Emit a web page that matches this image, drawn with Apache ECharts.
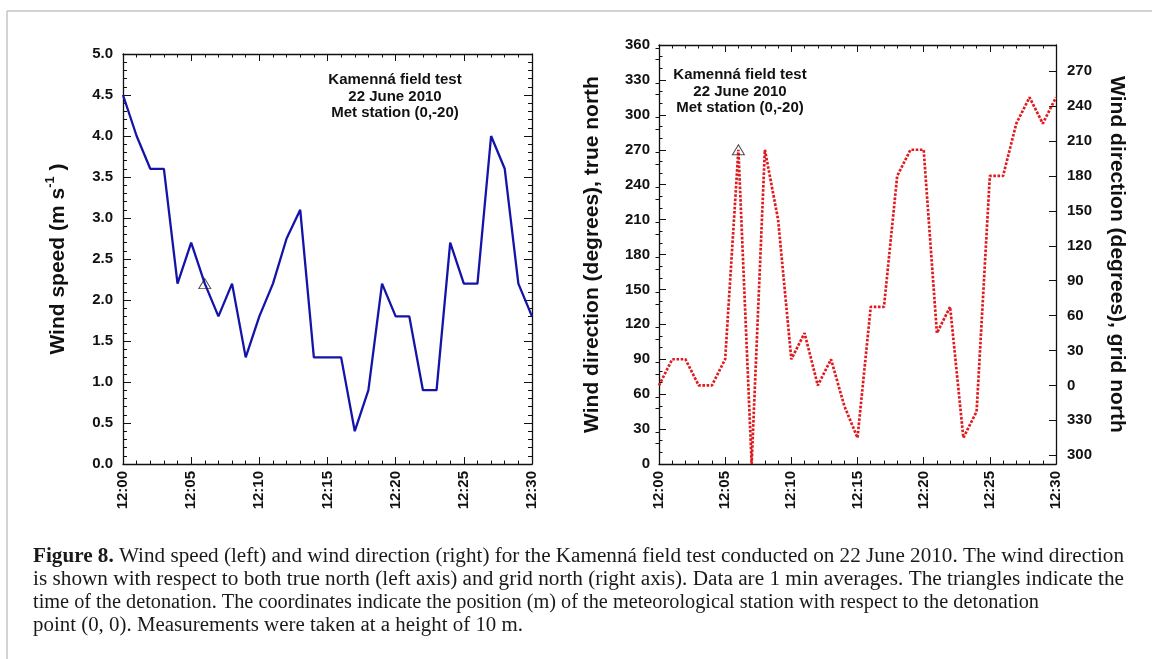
<!DOCTYPE html>
<html>
<head>
<meta charset="utf-8">
<title>Kamenná field test – wind</title>
<script src="https://cdn.jsdelivr.net/npm/echarts@6/dist/echarts.min.js"></script>
<style>
  html, body { margin: 0; padding: 0; background: #fff; }
  #chart { width: 1152px; height: 659px; }
</style>
</head>
<body>
<div id="chart"></div>
<script>
// Minutes after 12:00, one-minute averages
const minutes = [0, 1, 2, 3, 4, 5, 6, 7, 8, 9, 10, 11, 12, 13, 14, 15, 16, 17, 18, 19, 20, 21, 22, 23, 24, 25, 26, 27, 28, 29, 30];
// Wind speed (m/s)
const windSpeed = [4.5, 4.0, 3.6, 3.6, 2.2, 2.7, 2.2, 1.8, 2.2, 1.3, 1.8, 2.2, 2.75, 3.1, 1.3, 1.3, 1.3, 0.4, 0.9, 2.2, 1.8, 1.8, 0.9, 0.9, 2.7, 2.2, 2.2, 4.0, 3.6, 2.2, 1.8];
// Wind direction, degrees from true north
const windDirection = [67.5, 90, 90, 67.5, 67.5, 90, 270, 0, 270, 210, 90, 112.5, 67.5, 90, 50, 22.5, 135, 135, 247.5, 270, 270, 112.5, 135, 22.5, 45, 247.5, 247.5, 292.5, 315, 292.5, 315];
// Detonation time marker
const detonationMinute = 6;
const detonationSpeed = 2.2;
const detonationDirection = 270;
// Tick labels
const timeLabels = ['12:00', '12:05', '12:10', '12:15', '12:20', '12:25', '12:30'];
const gridNorthTicks = [-60, -30, 0, 30, 60, 90, 120, 150, 180, 210, 240, 270];
const gridNorthMinor = [-50, -40, -20, -10, 10, 20, 40, 50, 70, 80, 100, 110, 130, 140, 160, 170, 190, 200, 220, 230, 250, 260, 280, 290];
// Grid north = true north minus this offset
const gridOffset = 67.5;
const insetLines = ['Kamenná field test', '22 June 2010', 'Met station (0,-20)'];
const captionBold = 'Figure 8.';
const captionLines = [
  ' Wind speed (left) and wind direction (right) for the Kamenná field test conducted on 22 June 2010. The wind direction',
  'is shown with respect to both true north (left axis) and grid north (right axis). Data are 1 min averages. The triangles indicate the',
  'time of the detonation. The coordinates indicate the position (m) of the meteorological station with respect to the detonation',
  'point (0, 0). Measurements were taken at a height of 10 m.'
];

const SANS = '"Liberation Sans", Arial, Helvetica, sans-serif';
const SERIF = '"Liberation Serif", "Times New Roman", serif';
const INK = '#111';
const TICK_FONT = 15;

const chart = echarts.init(document.getElementById('chart'), null, { renderer: 'canvas' });

const speedPts = minutes.map((m, i) => [m, windSpeed[i]]);
const dirPts = minutes.map((m, i) => [m, windDirection[i]]);

// Ticks point into the plot: outward direction with a negative length
const majorTick = len => ({ show: true, inside: false, length: -len, lineStyle: { color: INK, width: 1 } });
const minorTick = (n, len) => ({ show: true, splitNumber: n, length: -len, lineStyle: { color: INK, width: 1 } });
const frameLine = { show: true, onZero: false, lineStyle: { color: INK, width: 1.3 } };
const tickLabel = extra => Object.assign({ fontFamily: SANS, fontWeight: 'bold', fontSize: TICK_FONT, color: INK }, extra);

function timeAxis(gridIndex, position, withLabels) {
  return {
    type: 'value', gridIndex, position, min: 0, max: 30, interval: 5,
    axisLine: frameLine,
    axisTick: majorTick(7),
    minorTick: minorTick(5, 3.5),
    splitLine: { show: false },
    axisLabel: withLabels
      ? tickLabel({ rotate: 90, margin: 7, formatter: v => timeLabels[Math.round(v / 5)] })
      : { show: false }
  };
}

// Measure caption lines to spread them over the text block width
const measureCtx = document.createElement('canvas').getContext('2d');
function textWidth(str, font) { measureCtx.font = font; return measureCtx.measureText(str).width; }
const capSize = 20;
const capTargets = [1091, 1091, 1006, 490];
const capBaselines = [563, 586, 609, 632];
const capGraphics = captionLines.map((line, i) => {
  let w = textWidth(line, capSize + 'px ' + SERIF);
  let text = '{r|' + line + '}';
  if (i === 0) {
    w += textWidth(captionBold, 'bold ' + capSize + 'px ' + SERIF);
    text = '{b|' + captionBold + '}' + text;
  }
  return {
    type: 'text', left: 33, top: capBaselines[i] - 16,
    scaleX: capTargets[i] / w, originX: 33,
    style: {
      text,
      rich: {
        b: { fontFamily: SERIF, fontWeight: 'bold', fontSize: capSize, fill: '#1a1a1a' },
        r: { fontFamily: SERIF, fontSize: capSize, fill: '#1a1a1a' }
      }
    }
  };
});

function inset(cx, y0) {
  return insetLines.map((t, i) => ({
    type: 'text', x: cx, y: y0 + i * 16.5,
    style: { text: t, fontFamily: SANS, fontWeight: 'bold', fontSize: 15, fill: INK, align: 'center', verticalAlign: 'middle' }
  }));
}

const titleStyle = { fontFamily: SANS, fontWeight: 'bold', fontSize: 21, color: INK };

const option = {
  animation: false,
  backgroundColor: '#fff',
  grid: [
    { left: 123, top: 54, width: 409, height: 410 },
    { left: 659, top: 45, width: 397, height: 419 }
  ],
  xAxis: [
    timeAxis(0, 'bottom', true),
    timeAxis(0, 'top', false),
    timeAxis(1, 'bottom', true),
    timeAxis(1, 'top', false)
  ],
  yAxis: [
    {
      type: 'value', gridIndex: 0, position: 'left', min: 0, max: 5, interval: 0.5,
      axisLine: frameLine,
      axisTick: majorTick(8),
      minorTick: minorTick(5, 4),
      splitLine: { show: false },
      axisLabel: tickLabel({ margin: 10, formatter: v => v.toFixed(1) }),
      name: '{a|Wind speed (m s}{s|-1}{a| )}',
      nameLocation: 'middle', nameRotate: 90, nameGap: 51,
      nameTextStyle: {
        rich: {
          a: Object.assign({ lineHeight: 28 }, titleStyle),
          s: { fontFamily: SANS, fontWeight: 'bold', fontSize: 13, color: INK, lineHeight: 28, verticalAlign: 'top' }
        }
      }
    },
    {
      type: 'value', gridIndex: 0, position: 'right', min: 0, max: 5, interval: 0.5,
      axisLine: frameLine,
      axisTick: majorTick(8),
      minorTick: minorTick(5, 4),
      splitLine: { show: false }, axisLabel: { show: false }
    },
    {
      type: 'value', gridIndex: 1, position: 'left', min: 0, max: 360, interval: 30,
      axisLine: frameLine,
      axisTick: majorTick(7),
      minorTick: minorTick(3, 3.5),
      splitLine: { show: false },
      axisLabel: tickLabel({ margin: 9 }),
      name: 'Wind direction (degrees), true north',
      nameLocation: 'middle', nameRotate: 90, nameGap: 56,
      nameTextStyle: titleStyle
    },
    {
      type: 'value', gridIndex: 1, position: 'right', min: -gridOffset, max: 360 - gridOffset,
      axisLine: frameLine,
      axisTick: Object.assign(majorTick(7), { customValues: gridNorthTicks }),
      splitLine: { show: false },
      axisLabel: tickLabel({ margin: 11, customValues: gridNorthTicks, formatter: v => String(v < 0 ? v + 360 : v) }),
      name: 'Wind direction (degrees), grid north',
      nameLocation: 'middle', nameRotate: -90, nameGap: 50,
      nameTextStyle: titleStyle
    },
    {
      type: 'value', gridIndex: 1, position: 'right', min: -gridOffset, max: 360 - gridOffset,
      axisLine: { show: false },
      axisTick: Object.assign(majorTick(3.5), { customValues: gridNorthMinor }),
      splitLine: { show: false }, axisLabel: { show: false }
    }
  ],
  series: [
    {
      type: 'line', xAxisIndex: 0, yAxisIndex: 0, data: speedPts,
      showSymbol: false, symbol: 'none',
      lineStyle: { color: '#1414a8', width: 2.3 }
    },
    {
      type: 'scatter', xAxisIndex: 0, yAxisIndex: 0, data: [[detonationMinute, detonationSpeed]],
      symbol: 'triangle', symbolSize: [12, 10], z: 5,
      itemStyle: { color: 'rgba(255,255,255,0)', borderColor: '#222', borderWidth: 1 }
    },
    {
      type: 'line', xAxisIndex: 2, yAxisIndex: 2, data: dirPts,
      showSymbol: false, symbol: 'none',
      lineStyle: { color: '#e01a1e', width: 2.7, type: [2.6, 1.6], cap: 'butt' }
    },
    {
      type: 'scatter', xAxisIndex: 2, yAxisIndex: 2, data: [[detonationMinute, detonationDirection]],
      symbol: 'triangle', symbolSize: [12, 10], z: 5,
      itemStyle: { color: 'rgba(255,255,255,0)', borderColor: '#222', borderWidth: 1 }
    }
  ],
  graphic: [
    { type: 'line', shape: { x1: 7, y1: 11, x2: 1152, y2: 11 }, style: { stroke: '#c4c4c4', lineWidth: 1.5 } },
    { type: 'line', shape: { x1: 7, y1: 11, x2: 7, y2: 659 }, style: { stroke: '#c4c4c4', lineWidth: 1.5 } },
    ...inset(395, 80),
    ...inset(740, 75),
    ...capGraphics
  ]
};

chart.setOption(option);
</script>
</body>
</html>
